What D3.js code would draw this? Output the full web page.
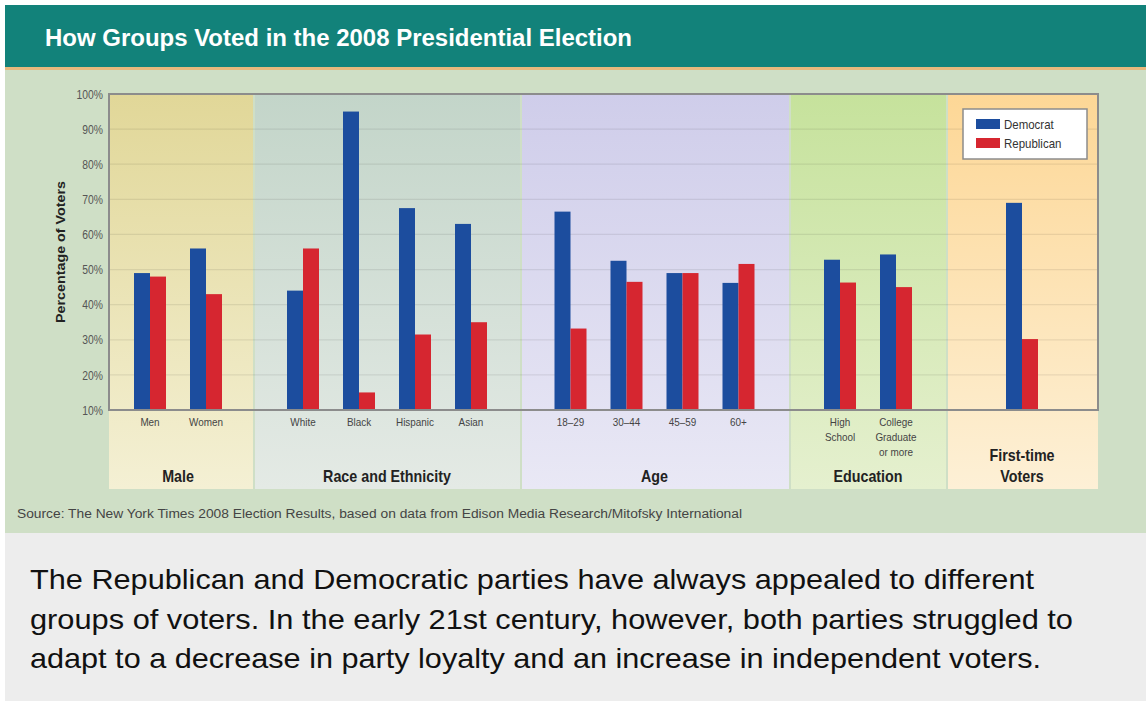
<!DOCTYPE html>
<html><head><meta charset="utf-8">
<script src="https://cdn.jsdelivr.net/npm/d3@7/dist/d3.min.js"></script>
<style>
html,body{margin:0;padding:0;background:#fff;}
svg{display:block;}
</style></head>
<body>
<svg id="chart" width="1146" height="703"></svg>
<script>
// ---------- data ----------
const groups = ["Male", "Race and Ethnicity", "Age", "Education", "First-time\nVoters"];
const categories = ["Men", "Women", "White", "Black", "Hispanic", "Asian",
  "18–29", "30–44", "45–59", "60+", "High\nSchool", "College\nGraduate\nor more", ""];
const categoryGroup = [0, 0, 1, 1, 1, 1, 2, 2, 2, 2, 3, 3, 4];
const democrat   = [49, 56, 44, 95, 67.5, 63, 66.5, 52.5, 49, 46.2, 52.8, 54.3, 69];
const republican = [48, 43, 56, 15, 31.5, 35, 33.2, 46.5, 49, 51.6, 46.3, 45, 30.2];
const seriesNames = ["Democrat", "Republican"];
const yTicks = [10, 20, 30, 40, 50, 60, 70, 80, 90, 100];
const title = "How Groups Voted in the 2008 Presidential Election";
const yTitle = "Percentage of Voters";
const source = "Source: The New York Times 2008 Election Results, based on data from Edison Media Research/Mitofsky International";
const caption = [
  "The Republican and Democratic parties have always appealed to different",
  "groups of voters. In the early 21st century, however, both parties struggled to",
  "adapt to a decrease in party loyalty and an increase in independent voters."
];

// ---------- layout / style ----------
const W = 1146, H = 703;
const plot = {left: 109, right: 1098, top: 94, bottom: 410};
const panelBottom = 489;
const panelEdges = [109, 254, 521, 790, 947, 1098];
const panelShift = [-3.5, -0.5, -1, -0.5, -0.5];
const catStep = 56, barW = 16;
const colors = {Democrat: "#1c4d9e", Republican: "#d62630"};
const panelGrad = [
  ["#e1d798", "#f4f0d4"],
  ["#c3d5c9", "#e4eae5"],
  ["#cfcdea", "#e9e8f5"],
  ["#c6e29c", "#e5f0cf"],
  ["#fdd796", "#fdf0d6"]
];
const SANS = "'Liberation Sans',Arial,Helvetica,sans-serif";

const svg = d3.select("#chart");
const defs = svg.append("defs");

function fitWidth(sel, target) {
  sel.each(function() {
    const len = this.getComputedTextLength();
    if (len > 0) d3.select(this).attr("textLength", target).attr("lengthAdjust", "spacingAndGlyphs");
  });
}
function condense(sel, factor) {
  sel.each(function() {
    const len = this.getComputedTextLength();
    if (len > 0) d3.select(this).attr("textLength", len * factor).attr("lengthAdjust", "spacingAndGlyphs");
  });
}

// backgrounds
svg.append("rect").attr("width", W).attr("height", H).attr("fill", "#fff");
svg.append("rect").attr("x", 5).attr("y", 5).attr("width", W - 5).attr("height", 62).attr("fill", "#12827a");
svg.append("rect").attr("x", 5).attr("y", 67).attr("width", W - 5).attr("height", 3).attr("fill", "#e7b97d");
svg.append("rect").attr("x", 5).attr("y", 70).attr("width", W - 5).attr("height", 463).attr("fill", "#cfdfc6");
svg.append("rect").attr("x", 5).attr("y", 533).attr("width", W - 5).attr("height", 168).attr("fill", "#ededed");

// title
const tt = svg.append("text").attr("x", 45).attr("y", 45.5)
  .attr("font-family", SANS).attr("font-weight", "bold").attr("font-size", 23)
  .attr("fill", "#fff").text(title);
fitWidth(tt, 587);

// scales
const y = d3.scaleLinear().domain([10, 100]).range([plot.bottom, plot.top]);
const xSeries = d3.scaleBand().domain(seriesNames).range([-barW, barW]).padding(0);

function panelCenter(g) { return (panelEdges[g] + panelEdges[g + 1]) / 2; }
const xCat = categories.map((c, i) => {
  const g = categoryGroup[i];
  const members = categories.map((_, j) => j).filter(j => categoryGroup[j] === g);
  const n = members.length;
  const c0 = panelCenter(g) + panelShift[g];
  const sp = d3.scalePoint().domain(members).range([c0 - (n - 1) * catStep / 2, c0 + (n - 1) * catStep / 2]);
  return n === 1 ? c0 : sp(i);
});

// panels
groups.forEach((g, i) => {
  const grad = defs.append("linearGradient").attr("id", "pg" + i)
    .attr("x1", 0).attr("y1", 0).attr("x2", 0).attr("y2", 1);
  grad.append("stop").attr("offset", "0%").attr("stop-color", panelGrad[i][0]);
  grad.append("stop").attr("offset", "100%").attr("stop-color", panelGrad[i][1]);
});
svg.append("g").selectAll("rect").data(groups).join("rect")
  .attr("x", (d, i) => panelEdges[i] + (i > 0 ? 1 : 0))
  .attr("y", plot.top)
  .attr("width", (d, i) => panelEdges[i + 1] - panelEdges[i] - (i > 0 ? 1 : 0) - (i < groups.length - 1 ? 1 : 0))
  .attr("height", panelBottom - plot.top)
  .attr("fill", (d, i) => `url(#pg${i})`);

// gridlines
svg.append("g").selectAll("line").data(yTicks.slice(1, -1)).join("line")
  .attr("x1", plot.left).attr("x2", plot.right)
  .attr("y1", d => y(d)).attr("y2", d => y(d))
  .attr("stroke", "#000").attr("stroke-opacity", 0.08).attr("stroke-width", 1.2);

// bars
const barData = [];
categories.forEach((c, i) => {
  barData.push({i, s: "Democrat", v: democrat[i]});
  barData.push({i, s: "Republican", v: republican[i]});
});
svg.append("g").selectAll("rect").data(barData).join("rect")
  .attr("x", d => xCat[d.i] + xSeries(d.s))
  .attr("y", d => y(d.v))
  .attr("width", xSeries.bandwidth())
  .attr("height", d => y(10) - y(d.v))
  .attr("fill", d => colors[d.s]);

// frame
svg.append("path")
  .attr("d", `M${plot.left},${plot.bottom}V${plot.top}H${plot.right}V${plot.bottom}Z`)
  .attr("fill", "none").attr("stroke", "#8c8c8c").attr("stroke-width", 2);

// y axis
const yAxis = svg.append("g").attr("transform", `translate(${plot.left - 3},0)`)
  .call(d3.axisLeft(y).tickValues(yTicks).tickFormat(d => d + "%").tickSize(0).tickPadding(3));
yAxis.select(".domain").remove();
yAxis.selectAll("text").attr("font-family", SANS).attr("font-size", 12).attr("fill", "#555")
  .attr("dy", "0.35em").call(condense, 0.86);

const yt = svg.append("text").attr("transform", "translate(65,252) rotate(-90)")
  .attr("text-anchor", "middle").attr("font-family", SANS).attr("font-weight", "bold")
  .attr("font-size", 13).attr("fill", "#222").text(yTitle);
fitWidth(yt, 142);

// category labels
const catG = svg.append("g").attr("font-family", SANS).attr("font-size", 11.5).attr("fill", "#444").attr("text-anchor", "middle");
categories.forEach((c, i) => {
  if (!c) return;
  c.split("\n").forEach((line, k) => {
    catG.append("text").attr("x", xCat[i]).attr("y", 426 + k * 15).text(line);
  });
});
catG.selectAll("text").call(condense, 0.86);

// group labels
const grpG = svg.append("g").attr("font-family", SANS).attr("font-weight", "bold").attr("font-size", 17).attr("fill", "#222").attr("text-anchor", "middle");
groups.forEach((g, i) => {
  const lines = g.split("\n");
  lines.forEach((line, k) => {
    grpG.append("text").attr("x", panelCenter(i) + panelShift[i]).attr("y", 482 - (lines.length - 1 - k) * 21).text(line);
  });
});
grpG.selectAll("text").call(condense, 0.84);

// legend
const lg = svg.append("g").attr("transform", "translate(963,109)");
lg.append("rect").attr("width", 124).attr("height", 50).attr("fill", "#fff").attr("stroke", "#8c8c8c").attr("stroke-width", 1.5);
seriesNames.forEach((s, k) => {
  lg.append("rect").attr("x", 13).attr("y", 10 + k * 19).attr("width", 24).attr("height", 10).attr("fill", colors[s]);
  lg.append("text").attr("x", 41).attr("y", 20 + k * 19).attr("font-family", SANS).attr("font-size", 13.5)
    .attr("fill", "#333").text(s).call(condense, 0.85);
});

// source
const st = svg.append("text").attr("x", 17).attr("y", 518).attr("font-family", SANS).attr("font-size", 12)
  .attr("fill", "#444").text(source);
fitWidth(st, 725);

// caption
const capEnds = [1034, 1073, 1041];
caption.forEach((line, k) => {
  const t = svg.append("text").attr("x", 30).attr("y", 589 + k * 39.5).attr("font-family", SANS)
    .attr("font-size", 28).attr("fill", "#111").text(line);
  fitWidth(t, capEnds[k] - 30);
});
</script>
</body></html>
